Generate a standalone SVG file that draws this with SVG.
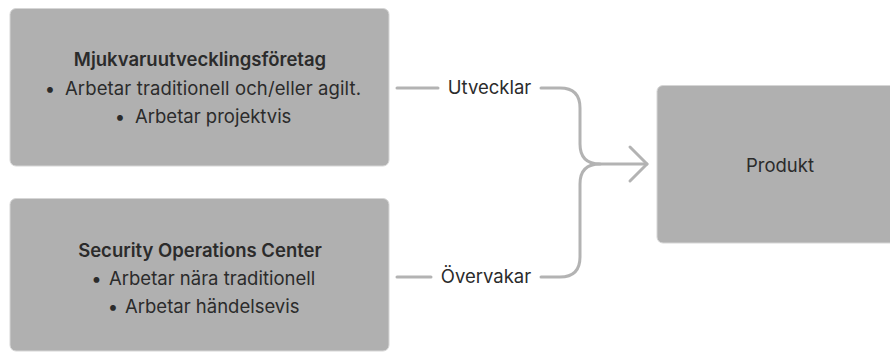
<svg xmlns="http://www.w3.org/2000/svg" width="890" height="352" viewBox="0 0 890 352">
<style>
.box{fill:#b0b0b0;stroke:#d6d6d6;stroke-width:1}
.t{font-family:Inter,"Noto Sans","Liberation Sans",sans-serif;font-size:18.5px;fill:#2b2b2b;text-anchor:middle}
.s{text-anchor:start}
.b{font-weight:600}
.c{fill:none;stroke:#b3b3b3;stroke-width:3;stroke-linecap:round;stroke-linejoin:round}
</style>
<rect width="890" height="352" fill="#ffffff"/>
<g id="node-mjukvara">
<rect class="box" x="10" y="8.5" width="379" height="157.5" rx="6"/>
<text class="t b" x="200" y="66">Mjukvaruutvecklingsföretag</text>
<text class="t" x="50" y="95">•</text>
<text class="t s" x="65" y="95" textLength="296" lengthAdjust="spacing">Arbetar traditionell och/eller agilt.</text>
<text class="t" x="120" y="123">•</text>
<text class="t s" x="135" y="123">Arbetar projektvis</text>
</g>
<g id="node-soc">
<rect class="box" x="10" y="198.5" width="379" height="152.5" rx="6"/>
<text class="t b" x="200" y="257">Security Operations Center</text>
<text class="t" x="96.5" y="285">•</text>
<text class="t s" x="109" y="285">Arbetar nära traditionell</text>
<text class="t" x="113" y="313">•</text>
<text class="t s" x="125" y="313">Arbetar händelsevis</text>
</g>
<g id="node-produkt">
<rect class="box" x="657" y="85.5" width="250" height="157.5" rx="6"/>
<text class="t" x="780" y="172">Produkt</text>
</g>
<g id="connectors">
<path class="c" d="M397,88 H438 M541,88 H560 Q580,88 580,108 V144 Q580,164 600,164 H647"/>
<path class="c" d="M397,277 H431 M541,277 H560 Q580,277 580,257 V184 Q580,164 600,164"/>
<path class="c" d="M630,147 L647,164 L630,181"/>
<text class="t" x="489.5" y="94">Utvecklar</text>
<text class="t" x="486" y="283">Övervakar</text>
</g>
</svg>
